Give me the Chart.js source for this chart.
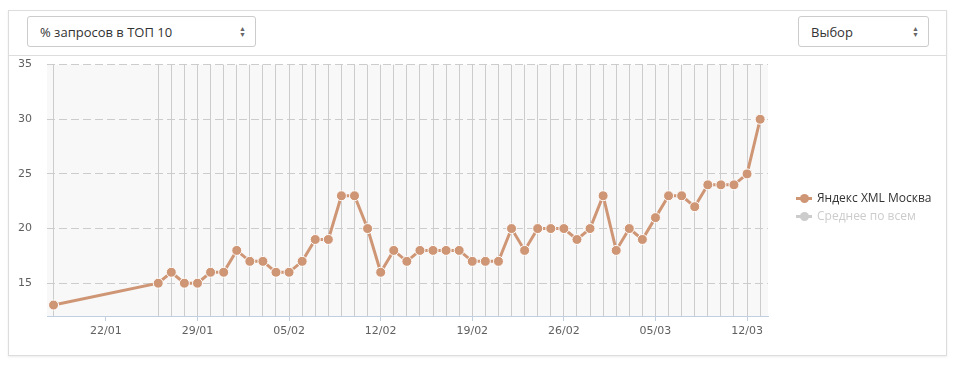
<!DOCTYPE html>
<html>
<head>
<meta charset="utf-8">
<script src="https://cdn.jsdelivr.net/npm/chart.js@4.4.1/dist/chart.umd.min.js"></script>
<style>
  body { margin: 0; background: #fff; font-family: "Open Sans", sans-serif; }
  .panel { position: absolute; left: 8px; top: 10px; width: 937px; height: 344px;
           border: 1px solid #ddd; box-shadow: 0 1px 2px rgba(0,0,0,0.08); }
  .head { position: absolute; left: 0; top: 0; right: 0; height: 44px; border-bottom: 1px solid #ddd; }
  .sel { position: absolute; top: 5px; height: 31px; border: 1px solid #ccc; border-radius: 3px;
         font-size: 13px; color: #333; line-height: 31px; padding-left: 12px; box-sizing: border-box; }
  .arr { position: absolute; right: 9px; top: 9px; font-size: 7px; line-height: 6px; color: #666; }
  .wrap { position: absolute; left: 0; top: 32px; width: 936px; height: 310px; }
  .legend { position: absolute; left: 787px; top: 178px; font-size: 12px; }
  .legend div { height: 18px; line-height: 18px; white-space: nowrap; }
  .mk { display: inline-block; position: relative; width: 16px; height: 10px; margin-right: 5px; vertical-align: -1px; }
  .mk i { position: absolute; left: 0; top: 4px; width: 16px; height: 3px; }
  .mk b { position: absolute; left: 4px; top: 1px; width: 9px; height: 9px; border-radius: 50%; }
</style>
</head>
<body>
<div class="panel">
  <div class="head">
    <div class="sel" style="left:18px;width:229px;">% запросов в ТОП 10<span class="arr">▲<br>▼</span></div>
    <div class="sel" style="left:789px;width:131px;">Выбор<span class="arr">▲<br>▼</span></div>
  </div>
  <div class="wrap"><canvas id="chart"></canvas></div>
  <div class="legend">
    <div style="color:#333"><span class="mk"><i style="background:#cf9676"></i><b style="background:#cf9676"></b></span>Яндекс XML Москва</div>
    <div style="color:#ccc"><span class="mk"><i style="background:#ccc"></i><b style="background:#ccc"></b></span>Среднее по всем</div>
  </div>
</div>
<script>
// даты (дд/мм) и значения
const dates = [
  "18/01", "26/01", "27/01", "28/01", "29/01", "30/01", "31/01",
  "01/02", "02/02", "03/02", "04/02", "05/02", "06/02", "07/02",
  "08/02", "09/02", "10/02", "11/02", "12/02", "13/02", "14/02",
  "15/02", "16/02", "17/02", "18/02", "19/02", "20/02", "21/02",
  "22/02", "23/02", "24/02", "25/02", "26/02", "27/02", "28/02",
  "01/03", "02/03", "03/03", "04/03", "05/03", "06/03", "07/03",
  "08/03", "09/03", "10/03", "11/03", "12/03", "13/03"
];
const yandexMoscow = [
  13, 15, 16, 15, 15, 16, 16,
  18, 17, 17, 16, 16, 17, 19,
  19, 23, 23, 20, 16, 18, 17,
  18, 18, 18, 18, 17, 17, 17,
  20, 18, 20, 20, 20, 19, 20,
  23, 18, 20, 19, 21, 23, 23,
  22, 24, 24, 24, 25, 30
];
const xTickLabels = ["22/01", "29/01", "05/02", "12/02", "19/02", "26/02", "05/03", "12/03"];
const yTicks = [15, 20, 25, 30, 35];

const monthStart = { "01": 0, "02": 31, "03": 59 };
function dayNum(s) {
  const [d, m] = s.split("/");
  return monthStart[m] + Number(d) - 1;
}
function dayLabel(n) {
  let m = "01", d = n + 1;
  if (n >= 59) { m = "03"; d = n - 58; }
  else if (n >= 31) { m = "02"; d = n - 30; }
  return String(d).padStart(2, "0") + "/" + m;
}

const dataDays = dates.map(dayNum);
const xTickDays = xTickLabels.map(dayNum);
const lineColor = "#cf9676";
const tickFont = { family: "DejaVu Sans", size: 11 };

const plotBg = {
  id: "plotBg",
  beforeDraw(chart) {
    const { ctx, chartArea: a } = chart;
    ctx.save();
    ctx.fillStyle = "#f8f8f8";
    ctx.fillRect(a.left, a.top, a.right - a.left, a.bottom - a.top);
    ctx.restore();
  }
};

new Chart(document.getElementById("chart"), {
  type: "line",
  data: {
    datasets: [{
      label: "Яндекс XML Москва",
      data: dataDays.map((d, i) => ({ x: d, y: yandexMoscow[i] })),
      borderColor: lineColor,
      backgroundColor: lineColor,
      borderWidth: 3,
      pointRadius: 5,
      pointBackgroundColor: lineColor,
      pointBorderColor: "#fff",
      pointBorderWidth: 1,
      tension: 0
    }]
  },
  options: {
    responsive: true,
    maintainAspectRatio: false,
    animation: false,
    layout: { padding: { top: 0, right: 177, bottom: 7, left: 0 } },
    plugins: { legend: { display: false }, tooltip: { enabled: false } },
    scales: {
      x: {
        type: "linear",
        position: "bottom",
        min: 16.5,
        max: 71.6,
        afterBuildTicks: s => { s.ticks = xTickDays.map(v => ({ value: v })); },
        afterFit: s => { s.height = 30; },
        ticks: {
          callback: v => dayLabel(v),
          color: "#606060",
          font: tickFont,
          padding: 4,
          maxRotation: 0,
          autoSkip: false
        },
        grid: { drawOnChartArea: false, tickLength: 5, color: "#c0d0e0" },
        border: { color: "#c0d0e0", width: 1 }
      },
      x2: {
        type: "linear",
        position: "bottom",
        min: 16.5,
        max: 71.6,
        afterBuildTicks: s => { s.ticks = dataDays.map(v => ({ value: v })); },
        afterFit: s => { s.height = 0; },
        ticks: { display: false },
        grid: { color: "#cccccc", drawTicks: false },
        border: { display: false }
      },
      y: {
        min: 12,
        max: 35,
        afterBuildTicks: s => { s.ticks = yTicks.map(v => ({ value: v })); },
        afterFit: s => { s.width = 38; },
        ticks: {
          color: "#606060",
          font: tickFont,
          padding: 15
        },
        grid: { color: "#cccccc", drawTicks: false },
        border: { display: false, dash: [8, 4] }
      }
    }
  },
  plugins: [plotBg]
});
</script>
</body>
</html>
